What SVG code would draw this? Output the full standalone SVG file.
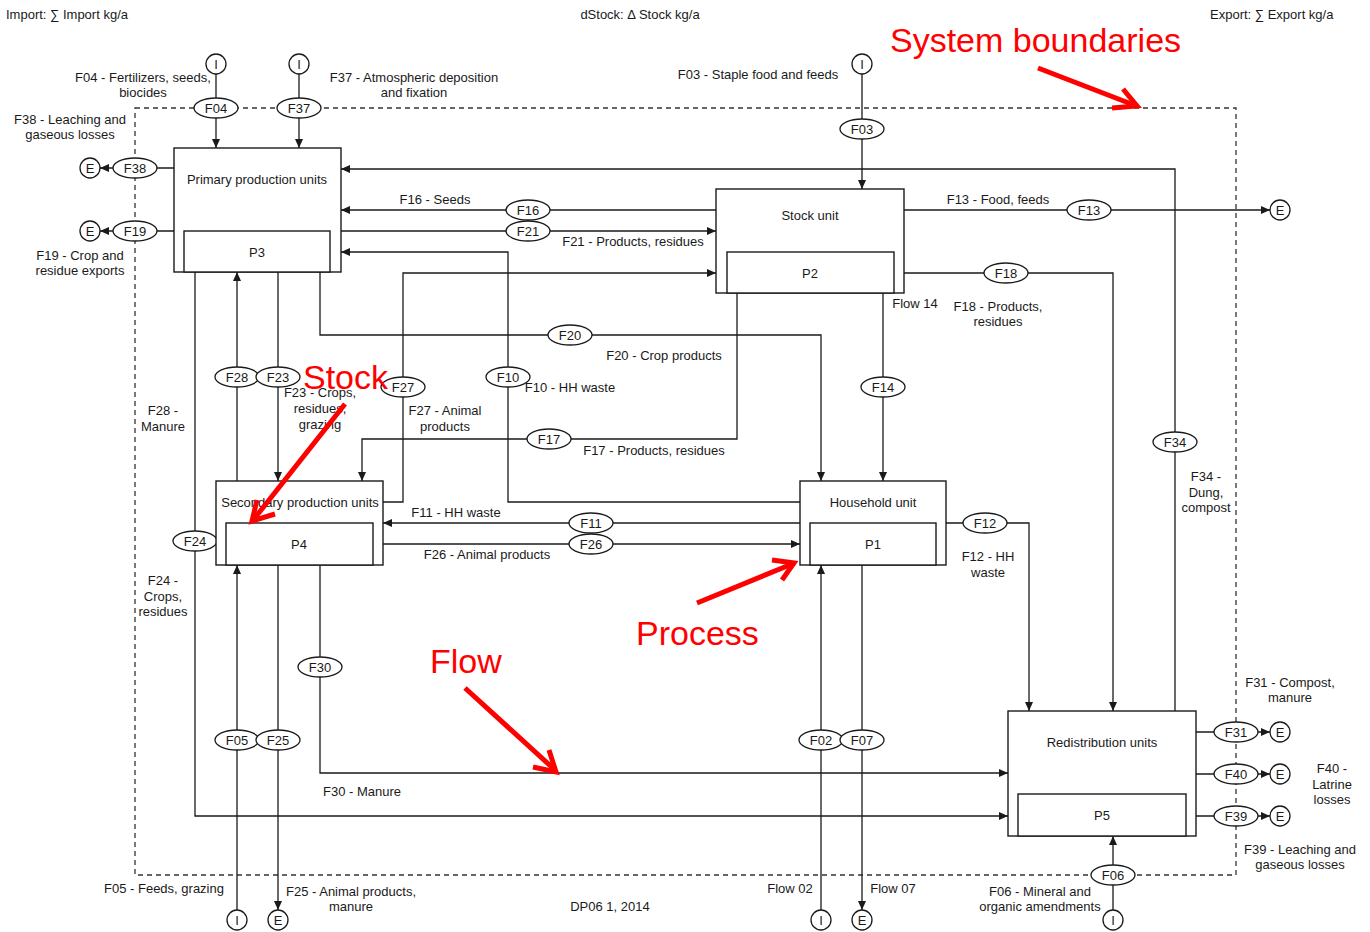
<svg xmlns="http://www.w3.org/2000/svg" width="1370" height="932" viewBox="0 0 1370 932">
<defs>
<marker id="ar" markerWidth="9" markerHeight="8" refX="9" refY="4" orient="auto" markerUnits="userSpaceOnUse"><path d="M0,0 L9,4 L0,8 z" fill="#1a1a1a"/></marker>
</defs>
<style>
text{font-family:"Liberation Sans",Arial,sans-serif;font-size:13px;fill:#1a1a1a}
.c{text-anchor:middle}
.ln{fill:none;stroke:#1a1a1a;stroke-width:1.3}
.a{marker-end:url(#ar)}
.box{fill:#fff;stroke:#1a1a1a;stroke-width:1.4}
.ell{fill:#fff;stroke:#1a1a1a;stroke-width:1.3}
.bnd{fill:none;stroke:#333;stroke-width:1.3;stroke-dasharray:5,4}
.red{fill:none;stroke:#f00;stroke-width:5}
.rt{font-size:34px;fill:#f00}
</style>
<rect width="1370" height="932" fill="#fff"/>
<rect class="bnd" x="135" y="108" width="1101" height="767"/>
<g id="connectors">
<path class="ln a" d="M216,74 V148"/>
<path class="ln a" d="M299,74 V148"/>
<path class="ln a" d="M174,168 H100"/>
<path class="ln a" d="M174,231 H100"/>
<path class="ln a" d="M862,74 V189"/>
<path class="ln a" d="M1175,711 V169 H341"/>
<path class="ln a" d="M716,210 H341"/>
<path class="ln a" d="M341,231 H716"/>
<path class="ln a" d="M800,502 H508 V252 H341"/>
<path class="ln a" d="M383,502 H403 V273 H716"/>
<path class="ln a" d="M320,272 V335 H821 V481"/>
<path class="ln a" d="M883,293 V481"/>
<path class="ln a" d="M737,293 V439 H362 V481"/>
<path class="ln a" d="M237,481 V272"/>
<path class="ln a" d="M278,272 V481"/>
<path class="ln a" d="M195,272 V816 H1008"/>
<path class="ln a" d="M800,523 H383"/>
<path class="ln a" d="M383,544 H800"/>
<path class="ln a" d="M946,523 H1029 V711"/>
<path class="ln a" d="M904,273 H1113 V711"/>
<path class="ln a" d="M904,210 H1270"/>
<path class="ln a" d="M320,565 V773 H1008"/>
<path class="ln a" d="M237,910 V565"/>
<path class="ln a" d="M278,565 V910"/>
<path class="ln a" d="M821,910 V565"/>
<path class="ln a" d="M862,565 V910"/>
<path class="ln a" d="M1113,910 V836"/>
<path class="ln a" d="M1196,732 H1270"/>
<path class="ln a" d="M1196,774 H1270"/>
<path class="ln a" d="M1196,816 H1270"/>
</g>
<g id="terminals">
<circle class="ell" cx="216" cy="64" r="10"/><text class="c" x="216" y="68.5">I</text>
<circle class="ell" cx="299" cy="64" r="10"/><text class="c" x="299" y="68.5">I</text>
<circle class="ell" cx="862" cy="64" r="10"/><text class="c" x="862" y="68.5">I</text>
<circle class="ell" cx="90" cy="168" r="10"/><text class="c" x="90" y="172.5">E</text>
<circle class="ell" cx="90" cy="231" r="10"/><text class="c" x="90" y="235.5">E</text>
<circle class="ell" cx="1280" cy="210" r="10"/><text class="c" x="1280" y="214.5">E</text>
<circle class="ell" cx="1280" cy="732" r="10"/><text class="c" x="1280" y="736.5">E</text>
<circle class="ell" cx="1280" cy="774" r="10"/><text class="c" x="1280" y="778.5">E</text>
<circle class="ell" cx="1280" cy="816" r="10"/><text class="c" x="1280" y="820.5">E</text>
<circle class="ell" cx="237" cy="920" r="10"/><text class="c" x="237" y="924.5">I</text>
<circle class="ell" cx="278" cy="920" r="10"/><text class="c" x="278" y="924.5">E</text>
<circle class="ell" cx="821" cy="920" r="10"/><text class="c" x="821" y="924.5">I</text>
<circle class="ell" cx="862" cy="920" r="10"/><text class="c" x="862" y="924.5">E</text>
<circle class="ell" cx="1113" cy="920" r="10"/><text class="c" x="1113" y="924.5">I</text>
</g>
<g id="flow-tags">
<ellipse class="ell" cx="216" cy="108" rx="22" ry="10"/><text class="c" x="216" y="112.5">F04</text>
<ellipse class="ell" cx="299" cy="108" rx="22" ry="10"/><text class="c" x="299" y="112.5">F37</text>
<ellipse class="ell" cx="135" cy="168" rx="22" ry="10"/><text class="c" x="135" y="172.5">F38</text>
<ellipse class="ell" cx="135" cy="231" rx="22" ry="10"/><text class="c" x="135" y="235.5">F19</text>
<ellipse class="ell" cx="862" cy="129" rx="22" ry="10"/><text class="c" x="862" y="133.5">F03</text>
<ellipse class="ell" cx="528" cy="210" rx="22" ry="10"/><text class="c" x="528" y="214.5">F16</text>
<ellipse class="ell" cx="528" cy="231" rx="22" ry="10"/><text class="c" x="528" y="235.5">F21</text>
<ellipse class="ell" cx="1089" cy="210" rx="22" ry="10"/><text class="c" x="1089" y="214.5">F13</text>
<ellipse class="ell" cx="1006" cy="273" rx="22" ry="10"/><text class="c" x="1006" y="277.5">F18</text>
<ellipse class="ell" cx="570" cy="335" rx="22" ry="10"/><text class="c" x="570" y="339.5">F20</text>
<ellipse class="ell" cx="237" cy="377" rx="22" ry="10"/><text class="c" x="237" y="381.5">F28</text>
<ellipse class="ell" cx="278" cy="377" rx="22" ry="10"/><text class="c" x="278" y="381.5">F23</text>
<ellipse class="ell" cx="403" cy="387" rx="22" ry="10"/><text class="c" x="403" y="391.5">F27</text>
<ellipse class="ell" cx="508" cy="377" rx="22" ry="10"/><text class="c" x="508" y="381.5">F10</text>
<ellipse class="ell" cx="883" cy="387" rx="22" ry="10"/><text class="c" x="883" y="391.5">F14</text>
<ellipse class="ell" cx="549" cy="439" rx="22" ry="10"/><text class="c" x="549" y="443.5">F17</text>
<ellipse class="ell" cx="1175" cy="442" rx="22" ry="10"/><text class="c" x="1175" y="446.5">F34</text>
<ellipse class="ell" cx="591" cy="523" rx="22" ry="10"/><text class="c" x="591" y="527.5">F11</text>
<ellipse class="ell" cx="591" cy="544" rx="22" ry="10"/><text class="c" x="591" y="548.5">F26</text>
<ellipse class="ell" cx="985" cy="523" rx="22" ry="10"/><text class="c" x="985" y="527.5">F12</text>
<ellipse class="ell" cx="195" cy="541" rx="22" ry="10"/><text class="c" x="195" y="545.5">F24</text>
<ellipse class="ell" cx="320" cy="667" rx="22" ry="10"/><text class="c" x="320" y="671.5">F30</text>
<ellipse class="ell" cx="237" cy="740" rx="22" ry="10"/><text class="c" x="237" y="744.5">F05</text>
<ellipse class="ell" cx="278" cy="740" rx="22" ry="10"/><text class="c" x="278" y="744.5">F25</text>
<ellipse class="ell" cx="821" cy="740" rx="22" ry="10"/><text class="c" x="821" y="744.5">F02</text>
<ellipse class="ell" cx="862" cy="740" rx="22" ry="10"/><text class="c" x="862" y="744.5">F07</text>
<ellipse class="ell" cx="1113" cy="875" rx="22" ry="10"/><text class="c" x="1113" y="879.5">F06</text>
<ellipse class="ell" cx="1236" cy="732" rx="22" ry="10"/><text class="c" x="1236" y="736.5">F31</text>
<ellipse class="ell" cx="1236" cy="774" rx="22" ry="10"/><text class="c" x="1236" y="778.5">F40</text>
<ellipse class="ell" cx="1236" cy="816" rx="22" ry="10"/><text class="c" x="1236" y="820.5">F39</text>
</g>
<g id="P3">
<rect class="box" x="174" y="148" width="167" height="124"/>
<rect class="box" x="184" y="231" width="146" height="41"/>
<text class="c" x="257" y="184">Primary production units</text>
<text class="c" x="257" y="257">P3</text>
</g>
<g id="P2">
<rect class="box" x="716" y="189" width="188" height="104"/>
<rect class="box" x="727" y="252" width="167" height="41"/>
<text class="c" x="810" y="220">Stock unit</text>
<text class="c" x="810" y="278">P2</text>
</g>
<g id="P4">
<rect class="box" x="216" y="481" width="167" height="84"/>
<rect class="box" x="226" y="523" width="147" height="42"/>
<text class="c" x="300" y="507">Secondary production units</text>
<text class="c" x="299" y="549">P4</text>
</g>
<g id="P1">
<rect class="box" x="800" y="481" width="146" height="84"/>
<rect class="box" x="810" y="523" width="126" height="42"/>
<text class="c" x="873" y="507">Household unit</text>
<text class="c" x="873" y="549">P1</text>
</g>
<g id="P5">
<rect class="box" x="1008" y="711" width="188" height="125"/>
<rect class="box" x="1018" y="794" width="168" height="42"/>
<text class="c" x="1102" y="747">Redistribution units</text>
<text class="c" x="1102" y="820">P5</text>
</g>
<g id="labels">
<text x="6" y="19">Import: ∑ Import kg/a</text>
<text class="c" x="640" y="19">dStock: Δ Stock kg/a</text>
<text x="1210" y="19">Export: ∑ Export kg/a</text>
<text class="c" x="143" y="82">F04 - Fertilizers, seeds,</text>
<text class="c" x="143" y="97">biocides</text>
<text class="c" x="414" y="82">F37 - Atmospheric deposition</text>
<text class="c" x="414" y="97">and fixation</text>
<text class="c" x="70" y="124">F38 - Leaching and</text>
<text class="c" x="70" y="139">gaseous losses</text>
<text class="c" x="80" y="260">F19 - Crop and</text>
<text class="c" x="80" y="275">residue exports</text>
<text class="c" x="758" y="79">F03 - Staple food and feeds</text>
<text class="c" x="435" y="204">F16 - Seeds</text>
<text class="c" x="633" y="246">F21 - Products, residues</text>
<text class="c" x="998" y="204">F13 - Food, feeds</text>
<text class="c" x="915" y="308">Flow 14</text>
<text class="c" x="998" y="311">F18 - Products,</text>
<text class="c" x="998" y="326">residues</text>
<text class="c" x="664" y="360">F20 - Crop products</text>
<text class="c" x="570" y="392">F10 - HH waste</text>
<text class="c" x="320" y="397">F23 - Crops,</text>
<text class="c" x="320" y="413">residues,</text>
<text class="c" x="320" y="429">grazing</text>
<text class="c" x="445" y="415">F27 - Animal</text>
<text class="c" x="445" y="431">products</text>
<text class="c" x="163" y="415">F28 -</text>
<text class="c" x="163" y="431">Manure</text>
<text class="c" x="654" y="455">F17 - Products, residues</text>
<text class="c" x="1206" y="481">F34 -</text>
<text class="c" x="1206" y="497">Dung,</text>
<text class="c" x="1206" y="512">compost</text>
<text class="c" x="456" y="517">F11 - HH waste</text>
<text class="c" x="487" y="559">F26 - Animal products</text>
<text class="c" x="988" y="561">F12 - HH</text>
<text class="c" x="988" y="577">waste</text>
<text class="c" x="163" y="585">F24 -</text>
<text class="c" x="163" y="601">Crops,</text>
<text class="c" x="163" y="616">residues</text>
<text class="c" x="1290" y="687">F31 - Compost,</text>
<text class="c" x="1290" y="702">manure</text>
<text class="c" x="1332" y="773">F40 -</text>
<text class="c" x="1332" y="789">Latrine</text>
<text class="c" x="1332" y="804">losses</text>
<text class="c" x="362" y="796">F30 - Manure</text>
<text class="c" x="1300" y="854">F39 - Leaching and</text>
<text class="c" x="1300" y="869">gaseous losses</text>
<text class="c" x="164" y="893">F05 - Feeds, grazing</text>
<text class="c" x="351" y="896">F25 - Animal products,</text>
<text class="c" x="351" y="911">manure</text>
<text class="c" x="790" y="893">Flow 02</text>
<text class="c" x="893" y="893">Flow 07</text>
<text class="c" x="1040" y="896">F06 - Mineral and</text>
<text class="c" x="1040" y="911">organic amendments</text>
<text class="c" x="610" y="911">DP06 1, 2014</text>
</g>
<g id="annotations">
<text class="rt" x="890" y="52">System boundaries</text>
<path class="red" d="M1038,68 L1134,105"/>
<path class="red" d="M1123,89 L1137,106 L1112,108"/>
<text class="rt" x="303" y="389">Stock</text>
<path class="red" d="M345,404 L254,519"/>
<path class="red" d="M257,500 L252,521 L275,514"/>
<text class="rt" x="636" y="645">Process</text>
<path class="red" d="M697,603 L792,564"/>
<path class="red" d="M772,560 L794,563 L782,580"/>
<text class="rt" x="430" y="673">Flow</text>
<path class="red" d="M465,688 L555,770"/>
<path class="red" d="M549,750 L556,772 L533,767"/>
</g>
</svg>
